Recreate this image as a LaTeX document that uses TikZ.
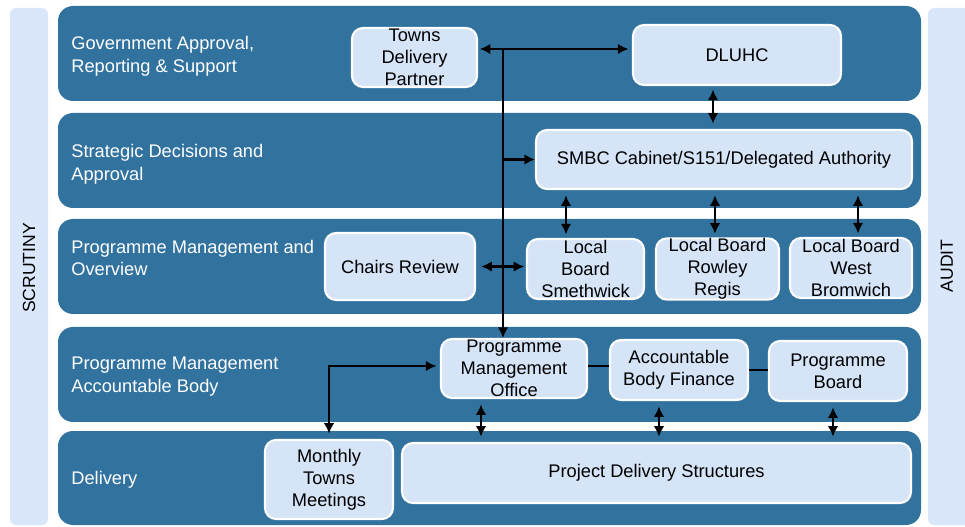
\documentclass[tikz,border=0pt]{standalone}
\usepackage{fontspec}
\setmainfont{Liberation Sans}
\usetikzlibrary{arrows.meta}
\definecolor{bandblue}{RGB}{49,114,159}
\definecolor{boxblue}{RGB}{214,228,248}
\definecolor{sideblue}{RGB}{218,230,250}

\begin{document}
\begin{tikzpicture}
[x=0.02cm, y=-0.02cm,
band/.style={fill=bandblue, draw=none, rounded corners=0.3cm},
side/.style={fill=sideblue, draw=none, rounded corners=0.12cm},
box/.style={rectangle, rounded corners=0.22cm, draw=white, line width=1.2pt, fill=boxblue, inner sep=0pt, align=center, font=\fontsize{10.4}{12.6}\selectfont},
bandtext/.style={anchor=west, inner sep=0pt, align=left, text=white, font=\fontsize{10.4}{13}\selectfont},
sidetext/.style={rotate=90, inner sep=0pt, font=\fontsize{10}{12}\selectfont},
classical/.style={line width=1.7pt, <->, >={Latex[length=6pt,width=6pt]}},
plain/.style={line width=1.7pt}]
\clip (0,0) rectangle (965,527);

% side bars
\fill[side] (10,8) rectangle (48,525);
\fill[side] (928,8) rectangle (975,525);
\node[sidetext] (scrutiny) at (29,268) {SCRUTINY};
\node[sidetext] (audit) at (947,266) {AUDIT};

% bands
\foreach \t/\b in {6/101, 113/208, 219/314, 327/422, 431/525}
  \fill[band] (58,\t) rectangle (921,\b);

\node[bandtext] (gov) at (71,56.5) {Government Approval,\\Reporting \& Support};
\node[bandtext] (strat) at (71,164) {Strategic Decisions and\\Approval};
\node[bandtext] (over) at (71,258) {Programme Management and\\Overview};
\node[bandtext] (accb) at (71,377) {Programme Management\\Accountable Body};
\node[bandtext] (deliv) at (71,480) {Delivery};

% first row
\node[box, minimum width=2.5cm, minimum height=1.18cm] (tdp) at (414.5,57.5) {Towns\\Delivery\\Partner};
\node[box, minimum width=4.16cm, minimum height=1.2cm] (dluhc) at (737,55) {DLUHC};

% second row
\node[box, minimum width=7.52cm, minimum height=1.18cm] (smbc) at (724,159.5) {SMBC Cabinet/S151/Delegated Authority};

% third row
\node[box, minimum width=3cm, minimum height=1.34cm] (chairs) at (400,266.5) {Chairs Review};
\node[box, minimum width=2.34cm, minimum height=1.2cm] (lbs) at (585.5,269) {Local\\Board\\Smethwick};
\node[box, minimum width=2.46cm, minimum height=1.2cm] (lbr) at (717.5,269) {Local Board\\Rowley\\Regis};
\node[box, minimum width=2.44cm, minimum height=1.2cm] (lbw) at (851,268) {Local Board\\West\\Bromwich};

% fourth row
\node[box, minimum width=2.92cm, minimum height=1.18cm] (pmo) at (514,368.5) {Programme\\Management\\Office};
\node[box, minimum width=2.76cm, minimum height=1.2cm] (abf) at (679,370) {Accountable\\Body Finance};
\node[box, minimum width=2.76cm, minimum height=1.2cm] (pb) at (838,371) {Programme\\Board};

% fifth row
\node[box, minimum width=2.56cm, minimum height=1.58cm] (mtm) at (329,479.5) {Monthly\\Towns\\Meetings};
\node[box, minimum width=10.18cm, minimum height=1.2cm] (pds) at (656.5,473) {Project Delivery Structures};

% connectors
\coordinate (top) at (503,49);
\coordinate (c1) at (713,0);
\coordinate (c2) at (566,0);
\coordinate (c3) at (715,0);
\coordinate (c4) at (858,0);
\coordinate (c5) at (481,0);
\coordinate (c6) at (659,0);
\coordinate (c7) at (833,0);

\draw[classical, shorten <=1pt, shorten >=2pt] (tdp.east |- top) -- (dluhc.west |- top);
\draw[classical, ->] (top) -- (pmo.north -| top);
\draw[classical, ->] (top |- smbc.west) -- (smbc.west);
\draw[classical, shorten <=3pt, shorten >=1pt] (chairs.east) -- (chairs.east -| lbs.west);
\draw[classical, shorten <=2pt, shorten >=3pt] (dluhc.south -| c1) -- (smbc.north -| c1);
\foreach \b/\c in {lbs/c2, lbr/c3, lbw/c4}
  \draw[classical, shorten <=3pt, shorten >=2pt] (smbc.south -| \c) -- (\b.north -| \c);
\foreach \b/\c in {pmo/c5, abf/c6, pb/c7}
  \draw[classical, shorten <=3pt, shorten >=3pt] (\b.south -| \c) -- (pds.north -| \c);
\draw[classical, shorten <=2pt, shorten >=3pt] ([yshift=0.05cm]pmo.west) -| (mtm.north);
\draw[plain] ([yshift=0.05cm]pmo.east) -- ([yshift=0.05cm]pmo.east -| abf.west);
\draw[plain] (abf.east) -- (abf.east -| pb.west);

\end{tikzpicture}
\end{document}
